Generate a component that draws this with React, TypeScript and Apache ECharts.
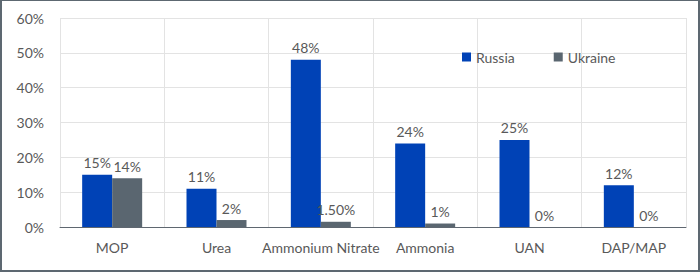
import React, { useEffect, useRef } from "react";
import * as echarts from "echarts";

const categories = ["MOP", "Urea", "Ammonium Nitrate", "Ammonia", "UAN", "DAP/MAP"];
const russiaValues = [15, 11, 48, 24, 25, 12];
const ukraineValues = [14, 2, 1.5, 1, 0, 0];
const russiaLabels = ["15%", "11%", "48%", "24%", "25%", "12%"];
const ukraineLabels = ["14%", "2%", "1.50%", "1%", "0%", "0%"];
const yTicks = [0, 10, 20, 30, 40, 50, 60];

const FONT = "Lato, 'Open Sans', sans-serif";
const TEXT = "#595959";

export default function App() {
  const ref = useRef<HTMLDivElement>(null);
  useEffect(() => {
    document.body.style.margin = "0";
    const chart = echarts.init(ref.current!, null, { renderer: "svg" });
    chart.setOption({
      animation: false,
      textStyle: { fontFamily: FONT },
      grid: { left: 60, right: 14, top: 18, bottom: 45 },
      legend: {
        left: 457,
        top: 45,
        itemWidth: 9,
        itemHeight: 9,
        itemGap: 39,
        icon: "rect",
        textStyle: { color: TEXT, fontSize: 14, fontFamily: FONT },
        data: ["Russia", "Ukraine"],
      },
      xAxis: {
        type: "category",
        data: categories,
        axisLine: { lineStyle: { color: "#5f6770", width: 1 } },
        axisTick: { show: false },
        axisLabel: { color: TEXT, fontSize: 14, margin: 13, fontFamily: FONT, interval: 0 },
        splitLine: { show: true, lineStyle: { color: "#e3e3e3", width: 1 } },
      },
      yAxis: {
        type: "value",
        min: yTicks[0],
        max: yTicks[yTicks.length - 1],
        interval: 10,
        axisLine: { show: false },
        axisTick: { show: false },
        axisLabel: { color: TEXT, fontSize: 14, margin: 16, fontFamily: FONT, formatter: "{value}%" },
        splitLine: { lineStyle: { color: "#e3e3e3", width: 1 } },
      },
      series: [
        {
          name: "Russia",
          type: "bar",
          data: russiaValues,
          barWidth: 30,
          barGap: "0%",
          itemStyle: { color: "#0042B6" },
          label: {
            show: true,
            position: "top",
            distance: 5,
            color: TEXT,
            fontSize: 14,
            fontFamily: FONT,
            formatter: (p: any) => russiaLabels[p.dataIndex],
          },
        },
        {
          name: "Ukraine",
          type: "bar",
          data: ukraineValues,
          barWidth: 30,
          barGap: "0%",
          itemStyle: { color: "#5A6670" },
          label: {
            show: true,
            position: "top",
            distance: 5,
            color: TEXT,
            fontSize: 14,
            fontFamily: FONT,
            formatter: (p: any) => ukraineLabels[p.dataIndex],
          },
        },
      ],
    });
    return () => chart.dispose();
  }, []);
  return (
    <div
      style={{
        position: "relative",
        width: 700,
        height: 272,
        boxSizing: "border-box",
        border: "2px solid #5d6871",
        borderTopWidth: 1,
        background: "#fff",
      }}
    >
      <div ref={ref} style={{ position: "absolute", left: -2, top: -1, width: 700, height: 272 }} />
    </div>
  );
}
